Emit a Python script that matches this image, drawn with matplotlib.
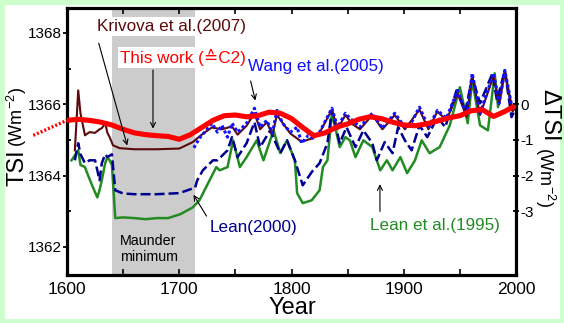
import numpy as np
import matplotlib
matplotlib.use("Agg")
import matplotlib.pyplot as plt
from matplotlib.patches import Rectangle

plt.rcParams['font.family'] = ['Liberation Sans', 'DejaVu Sans']
plt.rcParams['mathtext.fontset'] = 'custom'
plt.rcParams['mathtext.rm'] = 'Liberation Sans'

# ---- reconstructed TSI records (W/m^2) ----
this_work_years = [1600, 1610, 1620, 1630, 1640, 1650, 1660, 1670, 1680, 1690, 1700,
                   1710, 1720, 1730, 1740, 1750, 1760, 1770, 1780, 1790, 1800, 1810,
                   1820, 1830, 1840, 1850, 1860, 1870, 1880, 1890, 1900, 1910, 1920,
                   1930, 1940, 1950, 1960, 1970, 1980, 1990, 2000]
this_work_tsi = [1365.55, 1365.58, 1365.55, 1365.50, 1365.42, 1365.30, 1365.20, 1365.15,
                 1365.12, 1365.10, 1365.02, 1365.15, 1365.35, 1365.55, 1365.68, 1365.70,
                 1365.65, 1365.68, 1365.78, 1365.75, 1365.60, 1365.35, 1365.12, 1365.20,
                 1365.36, 1365.45, 1365.58, 1365.65, 1365.60, 1365.50, 1365.42, 1365.40,
                 1365.45, 1365.53, 1365.62, 1365.68, 1365.82, 1365.85, 1365.66, 1365.80,
                 1365.97]
# extrapolated part before 1600
this_work_ext_years = [1570, 1600]
this_work_ext_tsi = [1365.13, 1365.55]

krivova_years = [1607, 1610, 1612, 1616, 1620, 1625, 1629, 1631, 1634, 1636, 1638, 1641,
                 1647, 1660, 1680, 1700, 1712, 1720, 1729, 1738, 1747, 1752, 1760, 1767,
                 1772, 1778, 1783, 1787, 1799, 1809, 1819, 1825, 1836, 1841, 1848, 1854,
                 1861, 1872, 1881, 1892, 1901, 1914, 1922, 1930, 1938, 1948, 1956, 1961,
                 1968, 1980, 1985, 1990, 1997, 2000]
krivova_tsi = [1364.71, 1366.39, 1365.75, 1365.13, 1365.22, 1365.20, 1365.30, 1365.33,
               1365.47, 1365.20, 1365.08, 1364.85, 1364.77, 1364.74, 1364.74, 1364.76,
               1364.94, 1365.15, 1365.35, 1365.30, 1365.38, 1365.15, 1365.40, 1365.75,
               1365.30, 1365.50, 1365.15, 1365.70, 1365.18, 1364.95, 1365.05, 1365.20,
               1365.85, 1365.30, 1365.70, 1365.45, 1365.30, 1365.70, 1365.30, 1365.70,
               1365.30, 1365.85, 1365.30, 1365.80, 1365.55, 1366.30, 1365.65, 1366.80,
               1365.70, 1366.80, 1366.00, 1366.90, 1365.80, 1365.95]

wang_years = [1713, 1718, 1724, 1729, 1734, 1738, 1743, 1747, 1752, 1760, 1767, 1772,
              1778, 1783, 1787, 1792, 1799, 1805, 1809, 1815, 1819, 1825, 1836, 1841,
              1848, 1852, 1861, 1872, 1881, 1892, 1901, 1907, 1914, 1922, 1930, 1938,
              1948, 1956, 1961, 1968, 1980, 1985, 1990, 1997, 2000]
wang_tsi = [1364.78, 1365.05, 1365.27, 1365.47, 1365.22, 1365.41, 1365.08, 1365.47,
            1365.22, 1365.47, 1365.89, 1365.36, 1365.55, 1365.19, 1365.83, 1365.47,
            1365.22, 1365.36, 1364.91, 1365.13, 1365.05, 1365.22, 1365.89, 1365.36,
            1365.75, 1365.61, 1365.36, 1365.75, 1365.33, 1365.75, 1365.36, 1365.50,
            1365.92, 1365.36, 1365.83, 1365.61, 1366.39, 1365.69, 1366.87, 1365.75,
            1366.87, 1366.03, 1366.95, 1365.83, 1366.00]

lean2000_years = [1607, 1610, 1612, 1616, 1620, 1625, 1629, 1631, 1634, 1636, 1640, 1643,
                  1650, 1660, 1680, 1700, 1710, 1714, 1716, 1721, 1730, 1734, 1743, 1747,
                  1752, 1760, 1767, 1772, 1781, 1790, 1796, 1803, 1810, 1818, 1825, 1832,
                  1836, 1843, 1849, 1857, 1864, 1872, 1876, 1883, 1890, 1895, 1901, 1907,
                  1914, 1921, 1930, 1937, 1947, 1955, 1961, 1968, 1979, 1983, 1990, 1996,
                  2000]
lean2000_tsi = [1364.43, 1364.91, 1364.60, 1364.35, 1364.43, 1364.43, 1363.87, 1364.35,
                1364.60, 1364.52, 1364.60, 1363.59, 1363.50, 1363.48, 1363.48, 1363.51,
                1363.62, 1363.65, 1363.87, 1364.15, 1364.43, 1364.43, 1364.71, 1365.08,
                1364.52, 1364.91, 1365.50, 1364.80, 1365.27, 1364.63, 1364.99, 1364.43,
                1363.73, 1364.10, 1364.35, 1364.91, 1365.83, 1364.91, 1365.36, 1364.80,
                1365.27, 1364.91, 1364.43, 1364.94, 1364.63, 1365.36, 1364.99, 1364.71,
                1365.41, 1365.08, 1365.64, 1365.36, 1366.39, 1365.83, 1366.76, 1366.03,
                1366.87, 1366.11, 1366.95, 1365.64, 1365.90]

lean1995_years = [1604, 1610, 1612, 1616, 1618, 1623, 1627, 1629, 1631, 1634, 1636, 1638,
                  1640, 1643, 1650, 1660, 1670, 1680, 1690, 1701, 1712, 1718, 1727, 1733,
                  1736, 1743, 1748, 1754, 1760, 1769, 1775, 1784, 1790, 1796, 1803, 1805,
                  1810, 1818, 1825, 1828, 1832, 1836, 1843, 1848, 1852, 1857, 1864, 1872,
                  1879, 1885, 1890, 1897, 1903, 1910, 1916, 1923, 1932, 1941, 1950, 1957,
                  1961, 1968, 1975, 1981, 1984, 1990, 1996, 2000]
lean1995_tsi = [1364.43, 1364.71, 1364.30, 1364.24, 1364.07, 1363.68, 1363.39, 1363.60,
                1363.87, 1364.35, 1364.52, 1364.43, 1364.30, 1362.81, 1362.83, 1362.81,
                1362.78, 1362.81, 1362.81, 1362.92, 1363.11, 1363.31, 1363.87, 1364.24,
                1364.15, 1364.24, 1364.99, 1364.24, 1364.52, 1364.99, 1364.43, 1365.27,
                1364.63, 1364.99, 1364.43, 1363.51, 1363.23, 1363.31, 1363.59, 1364.24,
                1364.43, 1365.75, 1364.80, 1365.08, 1364.99, 1364.52, 1364.99, 1364.80,
                1364.15, 1364.43, 1364.15, 1364.52, 1364.07, 1364.43, 1364.99, 1364.63,
                1364.80, 1365.41, 1366.48, 1365.47, 1366.67, 1365.41, 1365.27, 1366.87,
                1365.92, 1366.95, 1365.92, 1366.00]

maunder_span = (1640, 1714)
tsi_ref = 1366  # zero of the delta-TSI axis

fig = plt.figure(figsize=(5.64, 3.23), dpi=100)
fig.patch.set_facecolor('#ccffcc')
fig.patches.append(Rectangle((5 / 564, 1 - 319 / 323), 555 / 564, 314 / 323,
                             transform=fig.transFigure, facecolor='white',
                             edgecolor='none', zorder=-10))

ax = fig.add_axes([67 / 564, 1 - 275 / 323, 449 / 564, 267 / 323])
ax.set_facecolor('none')

ax.axvspan(*maunder_span, color='#cccccc', lw=0, zorder=0)

ax.plot(lean1995_years, lean1995_tsi, color='#228b22', lw=1.8, zorder=2)
ax.plot(lean2000_years, lean2000_tsi, color='#000090', lw=1.8, ls=(0, (4, 1.6)), zorder=3)
ax.plot(krivova_years, krivova_tsi, color='#5c0a0a', lw=1.5, zorder=4)
ax.plot(wang_years, wang_tsi, color='#1010ff', lw=2.2, ls=(0, (1, 0.8)), zorder=5)
ax.plot(this_work_years, this_work_tsi, color='#ff0000', lw=3.7, zorder=6,
        solid_capstyle='round', solid_joinstyle='round')
ax.plot(this_work_ext_years, this_work_ext_tsi, color='#ff0000', lw=2.4,
        ls=(0, (0.6, 0.6)), clip_on=False, zorder=6)

ax.set_xlim(1600, 2000)
ax.set_ylim(1361.215, 1368.70)
ax.set_xticks([1600, 1700, 1800, 1900, 2000])
ax.set_xticks(np.arange(1650, 2000, 100), minor=True)
ax.set_yticks([1362, 1364, 1366, 1368])
ax.set_yticks([1363, 1365, 1367], minor=True)
ax.tick_params(axis='x', which='both', direction='in', top=True, length=4.5, width=1.2,
               labelsize=12.5, pad=5)
ax.tick_params(axis='y', which='major', direction='out', length=3, width=1.3,
               labelsize=11, pad=1)
ax.tick_params(axis='y', which='minor', direction='in', length=3, width=1.3)
for sp in ax.spines.values():
    sp.set_linewidth(2.3)

ax2 = ax.twinx()
ax2.set_ylim(ax.get_ylim()[0] - tsi_ref, ax.get_ylim()[1] - tsi_ref)
ax2.set_yticks([0, -1, -2, -3])
ax2.set_yticklabels(['0', '-1', '-2', '-3'])
ax2.tick_params(axis='y', direction='inout', length=5, width=1.3, labelsize=11, pad=1)
for sp in ax2.spines.values():
    sp.set_visible(False)

# axis titles
fig.text(17 / 564, 1 - 168 / 323, 'TSI', rotation=90, fontsize=17, ha='center', va='center')
fig.text(17 / 564, 1 - 117 / 323, '(Wm$^{-2}$)', rotation=90, fontsize=13,
         ha='center', va='center')
fig.text(549 / 564, 1 - 115 / 323, '\u0394TSI', rotation=270, fontsize=17,
         ha='center', va='center')
fig.text(545 / 564, 1 - 177 / 323, '(Wm$^{-2}$)', rotation=270, fontsize=13,
         ha='center', va='center')
fig.text(292 / 564, 1 - 308 / 323, 'Year', fontsize=17, ha='center', va='center')

# curve labels
box = dict(facecolor='white', edgecolor='none', pad=1.5)
ax.text(1626.7, 1368.19, 'Krivova et al.(2007)', color='#5c0a0a', fontsize=12.3,
        va='center', bbox=box, zorder=7)
ax.text(1647.2, 1367.32, 'This work (\u2259C2)', color='#ff0000', fontsize=12.3,
        va='center', bbox=box, zorder=7)
ax.text(1761.2, 1367.07, 'Wang et al.(2005)', color='#1010ff', fontsize=12.3,
        va='center', zorder=7)
ax.text(1727.4, 1362.55, 'Lean(2000)', color='#000090', fontsize=12.3, va='center', zorder=7)
ax.text(1869.9, 1362.61, 'Lean et al.(1995)', color='#228b22', fontsize=12.3,
        va='center', zorder=7)
ax.text(1647.2, 1362.17, 'Maunder', fontsize=10.3, va='center', zorder=7)
ax.text(1647.2, 1361.71, 'minimum', fontsize=10.3, va='center', zorder=7)

arrow = dict(arrowstyle='->', color='black', lw=0.8, mutation_scale=9)
ax.annotate('', xy=(1654.3, 1364.77), xytext=(1627.6, 1367.79), arrowprops=arrow, zorder=8)
ax.annotate('', xy=(1676.6, 1365.24), xytext=(1676.6, 1367.04), arrowprops=arrow, zorder=8)
ax.annotate('', xy=(1768.4, 1366.03), xytext=(1763.0, 1366.73), arrowprops=arrow, zorder=8)
ax.annotate('', xy=(1711.4, 1363.53), xytext=(1725.6, 1362.80), arrowprops=arrow, zorder=8)
ax.annotate('', xy=(1878.8, 1363.84), xytext=(1878.8, 1362.92), arrowprops=arrow, zorder=8)

fig.savefig('out.png', dpi=100, facecolor=fig.get_facecolor())
